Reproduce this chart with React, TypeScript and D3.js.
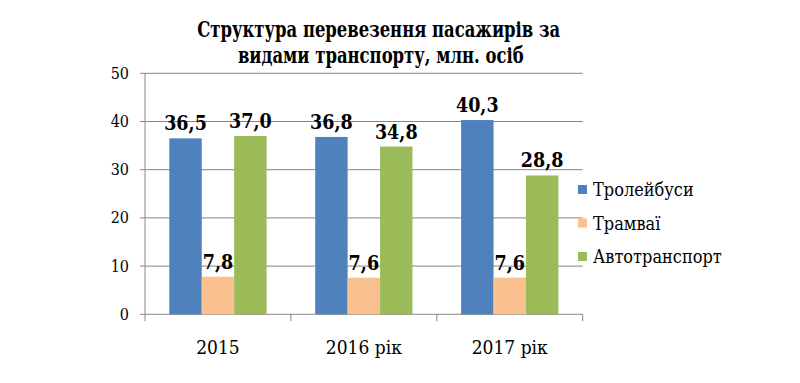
import React from "react";
import * as d3 from "d3";

const categories = ["2015", "2016 рік", "2017 рік"];
const seriesNames = ["Тролейбуси", "Трамваї", "Автотранспорт"];
const trolleybus = [36.5, 36.8, 40.3];
const tram = [7.8, 7.6, 7.6];
const autotransport = [37.0, 34.8, 28.8];
const yTicks = [0, 10, 20, 30, 40, 50];
const colors = ["#4F81BD", "#FAC08F", "#9BBB59"];

const series = [trolleybus, tram, autotransport];
const FONT = "'DejaVu Serif Condensed', 'DejaVu Serif', serif";

export default function App() {
  const W = 800, H = 383;
  const left = 145, right = 582.7, top = 73.3, bottom = 314.3;
  const y = d3.scaleLinear().domain([0, 50]).range([bottom, top]);
  const x0 = d3.scaleBand().domain(categories).range([left, right]).paddingInner(0).paddingOuter(0);
  const bw = x0.bandwidth() / 4.5;
  const fmt = (v: number) => v.toFixed(1).replace(".", ",");

  return (
    <svg width={W} height={H} style={{ position: "absolute", left: 0, top: 0, background: "#fff", fontFamily: FONT, fontStretch: "condensed" }}>
      <g transform="translate(379.5,0) scale(0.85,1)">
        <text x={-1} y={37} textAnchor="middle" fontSize={21.5} fontWeight="bold">Структура перевезення пасажирів за</text>
        <text x={1.5} y={63.5} textAnchor="middle" fontSize={21.5} fontWeight="bold">видами транспорту, млн. осіб</text>
      </g>
      {yTicks.map((t) => (
        <g key={t}>
          <line x1={140} x2={right} y1={y(t)} y2={y(t)} stroke="#868686" strokeWidth={1} />
          <text x={129} y={y(t) + 5.5} textAnchor="end" fontSize={16}>{t}</text>
        </g>
      ))}
      <line x1={left} x2={left} y1={top} y2={bottom} stroke="#868686" strokeWidth={1} />
      {[...categories.map((c) => x0(c) as number), right].map((xv, i) => (
        <line key={i} x1={xv} x2={xv} y1={bottom} y2={bottom + 7} stroke="#868686" strokeWidth={1} />
      ))}
      {categories.map((c, ci) => {
        const cx = x0(c) as number;
        return (
          <g key={c}>
            {series.map((s, si) => {
              const bx = cx + bw * 0.75 + si * bw;
              return (
                <g key={si}>
                  <rect x={bx} y={y(s[ci])} width={bw} height={bottom - y(s[ci])} fill={colors[si]} />
                  <text x={bx + bw / 2} y={y(s[ci]) - 8} textAnchor="middle" fontSize={19.5} fontWeight="bold">{fmt(s[ci])}</text>
                </g>
              );
            })}
            <text x={cx + x0.bandwidth() / 2} y={354} textAnchor="middle" fontSize={19}>{c}</text>
          </g>
        );
      })}
      {seriesNames.map((n, i) => (
        <g key={n}>
          <rect x={578} y={185 + i * 33.5} width={9} height={9} fill={colors[i]} />
          <text x={593} y={196 + i * 33.5} fontSize={18}>{n}</text>
        </g>
      ))}
    </svg>
  );
}
